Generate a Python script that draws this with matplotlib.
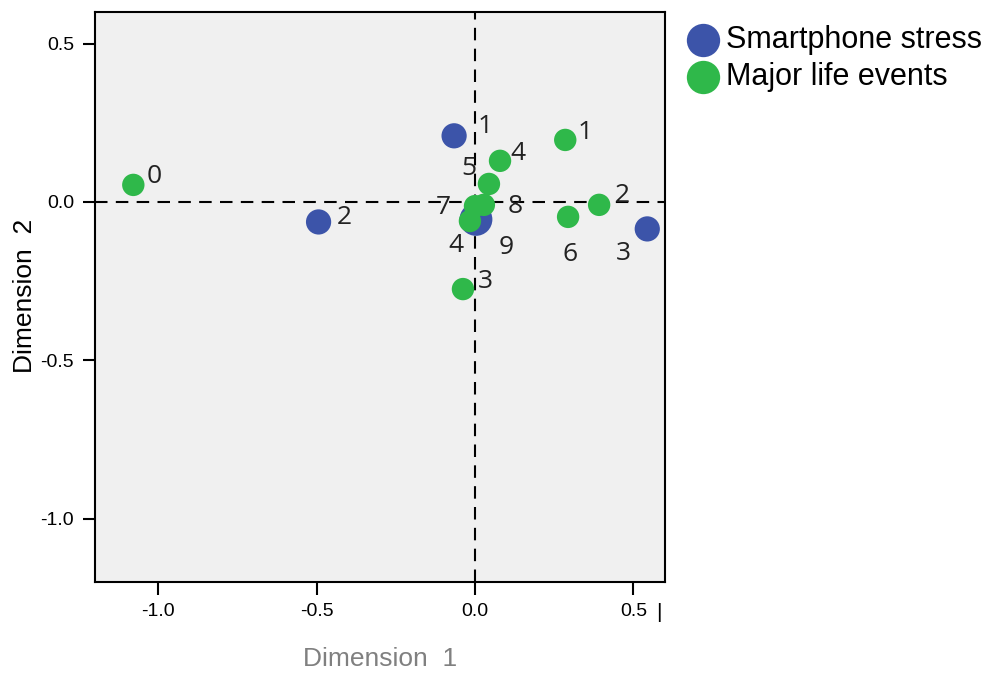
import matplotlib.pyplot as plt

# category coordinates
stress_labels = ["1", "2", "3", "4"]
stress_x = [-0.066, -0.494, 0.544, 0.003]
stress_y = [0.209, -0.063, -0.085, -0.055]

events_labels = ["0", "1", "2", "3", "4", "5", "6", "7", "8", "9"]
events_x = [-1.079, 0.285, 0.392, -0.038, 0.079, 0.044, 0.294, 0.0, 0.028, -0.016]
events_y = [0.054, 0.196, -0.009, -0.275, 0.130, 0.057, -0.047, -0.013, -0.009, -0.060]

ticks = [-1.0, -0.5, 0.0, 0.5]

# label offsets in pixels (dx, dy) from each point
stress_off = [(31, 9), (26, 4), (-24, -25), (-20, -26)]
events_off = [(21, 8), (20, 7), (23, 9), (22, 8), (18, 7), (-20, 15),
              (2, -38), (-32, -1), (31, -2), (36, -26)]
stress_sizes = [330, 330, 330, 560]

blue = "#3c54a9"
green = "#2fb84a"
font = "Liberation Sans"

fig = plt.figure(figsize=(9.9, 6.75), dpi=100)
ax = fig.add_axes([95 / 990, 1 - 582 / 675, 570 / 990, 570 / 675])
ax.set_facecolor("#f0f0f0")
ax.set_xlim(-1.2, 0.6)
ax.set_ylim(-1.2, 0.6)

ax.axhline(0, color="black", lw=1.5, ls=(0, (6, 4)), zorder=1)
ax.axvline(0, color="black", lw=1.5, ls=(0, (6, 4)), zorder=1)

ax.scatter(stress_x, stress_y, s=stress_sizes, color=blue, edgecolors="none", zorder=3)
ax.scatter(events_x, events_y, s=260, color=green, edgecolors="none", zorder=4)

px2pt = 0.72
for lab, x, y, (dx, dy) in zip(stress_labels, stress_x, stress_y, stress_off):
    ax.annotate(lab, (x, y), xytext=(dx * px2pt, dy * px2pt), textcoords="offset points",
                ha="center", va="center", fontsize=19, family="Open Sans", color="#222222", zorder=5)
for lab, x, y, (dx, dy) in zip(events_labels, events_x, events_y, events_off):
    ax.annotate(lab, (x, y), xytext=(dx * px2pt, dy * px2pt), textcoords="offset points",
                ha="center", va="center", fontsize=19, family="Open Sans", color="#222222", zorder=5)

ax.set_xticks(ticks)
ax.set_yticks(ticks)
ax.set_xticklabels([f"{t:.1f}" for t in ticks], family=font, fontsize=14)
ax.set_yticklabels([f"{t:.1f}" for t in ticks], family=font, fontsize=14)
ax.tick_params(direction="out", length=9, width=1.5, pad=6)
for sp in ax.spines.values():
    sp.set_linewidth(1.5)

ax.set_xlabel("Dimension  1", family=font, fontsize=19, color="#808080")
ax.set_ylabel("Dimension  2", family=font, fontsize=19, color="black")
ax.xaxis.set_label_coords((380 - 95) / 570, -(647 - 582) / 570)
ax.yaxis.set_label_coords(-(95 - 37) / 570, (582 - 296) / 570)

fig.text(659 / 990, 1 - 612 / 675, "|", family=font, fontsize=15, ha="center", va="center")

# legend drawn by hand in figure coordinates
leg_items = [("Smartphone stress", blue), ("Major life events", green)]
for i, (name, col) in enumerate(leg_items):
    yy = 1 - (40 + i * 37) / 675
    fig.add_artist(plt.Line2D([703 / 990], [yy], marker="o", markersize=24,
                              color=col, markeredgewidth=0, transform=fig.transFigure))
    fig.text(726 / 990, yy, name, family=font, fontsize=22, va="center", ha="left")

fig.savefig("out.png", dpi=100)
